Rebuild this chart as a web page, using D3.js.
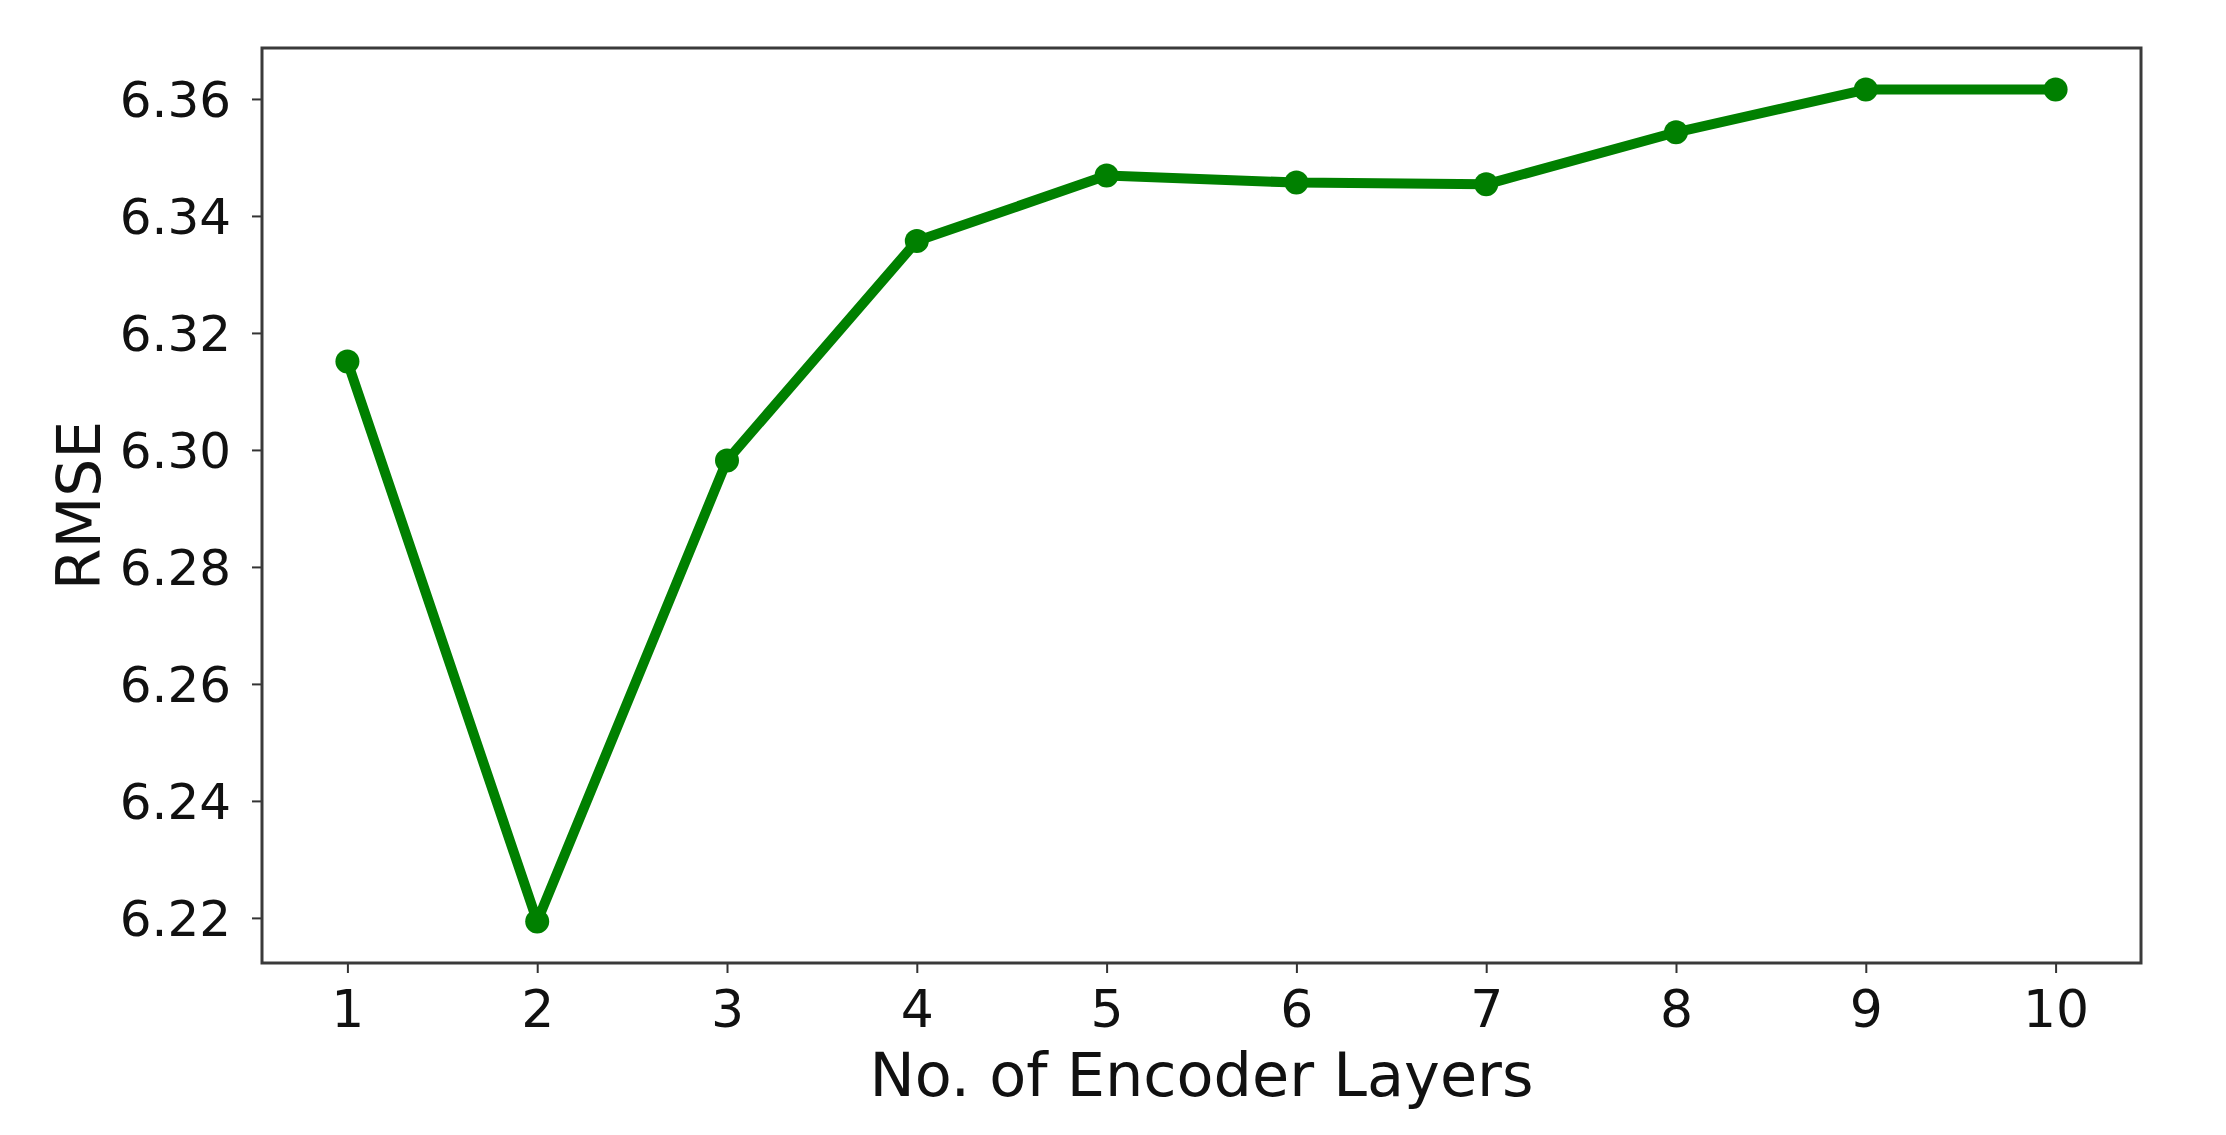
<!DOCTYPE html>
<html>
<head>
<meta charset="utf-8">
<script src="https://cdn.jsdelivr.net/npm/d3@7"></script>
<style>
  html, body { margin: 0; padding: 0; background: #fff; }
  svg { display: block; font-family: "DejaVu Sans", sans-serif; }
</style>
</head>
<body>
<svg id="chart"></svg>
<script>
// data
const layers = [1, 2, 3, 4, 5, 6, 7, 8, 9, 10]
const rmse = [6.3151, 6.2194, 6.2982, 6.3357, 6.3469, 6.3457, 6.3454, 6.3543, 6.3616, 6.3616]
const yTicks = [6.22, 6.24, 6.26, 6.28, 6.30, 6.32, 6.34, 6.36]
const xTitle = "No. of Encoder Layers"
const yTitle = "RMSE"

const W = 2226, H = 1135
const margin = { top: 48, right: 85, bottom: 172, left: 262 }
const iw = W - margin.left - margin.right
const ih = H - margin.top - margin.bottom

const svg = d3.select('#chart').attr('width', W).attr('height', H)
const g = svg.append('g').attr('transform', `translate(${margin.left},${margin.top})`)

// matplotlib style 5% padding
const xPad = (d3.max(layers) - d3.min(layers)) * 0.05
const yLo = d3.min(rmse), yHi = d3.max(rmse)
const yPad = (yHi - yLo) * 0.05

const x = d3.scaleLinear().domain([d3.min(layers) - xPad, d3.max(layers) + xPad]).range([0, iw])
const y = d3.scaleLinear().domain([yLo - yPad, yHi + yPad]).range([ih, 0])

// axes
const xAxis = g.append('g').attr('transform', `translate(0,${ih})`)
  .call(d3.axisBottom(x).tickValues(layers).tickFormat(d3.format('d')).tickSize(10).tickPadding(14))
const yAxis = g.append('g')
  .call(d3.axisLeft(y).tickValues(yTicks).tickFormat(d3.format('.2f')).tickSize(10).tickPadding(21))

;[xAxis, yAxis].forEach(a => {
  a.attr('font-family', '"DejaVu Sans", sans-serif').attr('font-size', null)
  a.select('.domain').remove()
  a.selectAll('line').attr('stroke', '#333').attr('stroke-width', 2)
  a.selectAll('text').attr('fill', '#111')
})
yAxis.selectAll('text').style('font-size', '50px').attr('dy', '0.36em')
xAxis.selectAll('text').style('font-size', '52px').attr('dy', '0.76em')

// frame
g.append('rect')
  .attr('width', iw).attr('height', ih)
  .attr('fill', 'none').attr('stroke', '#3a3a3a').attr('stroke-width', 3)

// line + markers
const line = d3.line().x((d, i) => x(layers[i])).y(d => y(d))
g.append('path').datum(rmse)
  .attr('d', line)
  .attr('fill', 'none')
  .attr('stroke', '#008000')
  .attr('stroke-width', 10)
  .attr('stroke-linejoin', 'round')

g.selectAll('circle.pt').data(rmse).join('circle')
  .attr('class', 'pt')
  .attr('cx', (d, i) => x(layers[i]))
  .attr('cy', d => y(d))
  .attr('r', 12)
  .attr('fill', '#008000')

// titles
svg.append('text')
  .attr('x', margin.left + iw / 2).attr('y', 1096)
  .attr('text-anchor', 'middle')
  .style('font-size', '60.5px').attr('fill', '#111')
  .text(xTitle)

svg.append('text')
  .attr('transform', `translate(100,${margin.top + ih / 2}) rotate(-90)`)
  .attr('text-anchor', 'middle')
  .style('font-size', '60px').attr('fill', '#111')
  .text(yTitle)
</script>
</body>
</html>
